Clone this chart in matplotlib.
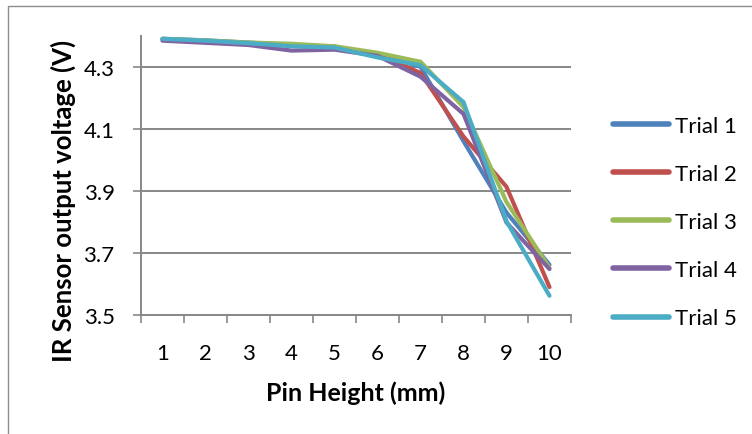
import matplotlib
matplotlib.use("Agg")
import matplotlib.pyplot as plt
from matplotlib.patches import Rectangle

plt.rcParams['font.family'] = ['Lato', 'DejaVu Sans']

pin_height = [1, 2, 3, 4, 5, 6, 7, 8, 9, 10]
trial_1 = [4.390, 4.385, 4.378, 4.370, 4.365, 4.340, 4.300, 4.060, 3.830, 3.662]
trial_2 = [4.388, 4.383, 4.376, 4.368, 4.364, 4.340, 4.280, 4.075, 3.913, 3.590]
trial_3 = [4.390, 4.385, 4.378, 4.374, 4.366, 4.345, 4.316, 4.170, 3.864, 3.652]
trial_4 = [4.384, 4.377, 4.370, 4.352, 4.355, 4.335, 4.268, 4.148, 3.798, 3.648]
trial_5 = [4.390, 4.384, 4.376, 4.366, 4.362, 4.330, 4.305, 4.186, 3.802, 3.562]
series_names = ["Trial 1", "Trial 2", "Trial 3", "Trial 4", "Trial 5"]
series_colors = ["#4F81BD", "#C0504D", "#9BBB59", "#8064A2", "#4BACC6"]
y_ticks = [3.5, 3.7, 3.9, 4.1, 4.3]

fig = plt.figure(figsize=(7.52, 4.35), dpi=100)
ax = fig.add_axes([141 / 752, 1 - 316 / 435, 430 / 752, (316 - 36.7) / 435])

# outer chart frame
fig.patches.append(Rectangle((8 / 752, -0.05), 1.0, 1 - 7 / 435 + 0.05,
                             transform=fig.transFigure, fill=False,
                             edgecolor="#8C8C8C", linewidth=1.0))

grey = "#878787"
positions = list(range(len(pin_height)))
for name, vals, col in zip(series_names, [trial_1, trial_2, trial_3, trial_4, trial_5], series_colors):
    ax.plot(positions, vals, color=col, linewidth=3.0, label=name,
            solid_capstyle="round", solid_joinstyle="miter")

ax.set_xlim(-0.5, len(pin_height) - 0.5)
ax.set_ylim(3.5, 4.4)
ax.set_yticks(y_ticks)
ax.set_yticklabels([f"{v:.1f}" for v in y_ticks])
ax.set_xticks(positions)
ax.set_xticklabels([str(p) for p in pin_height])
ax.set_xticks([p - 0.5 for p in range(len(pin_height) + 1)], minor=True)
ax.tick_params(axis="x", which="major", length=0, pad=20, labelsize=16)
ax.tick_params(axis="x", which="minor", length=6, width=1.2, color=grey, direction="out")
ax.tick_params(axis="y", length=6, width=1.2, color=grey, pad=13, labelsize=16)

ax.grid(axis="y", color=grey, linewidth=1.4)
ax.set_axisbelow(True)
for side in ["top", "right"]:
    ax.spines[side].set_visible(False)
for side in ["left", "bottom"]:
    ax.spines[side].set_color(grey)
    ax.spines[side].set_linewidth(1.4)

ax.set_xlabel("Pin Height (mm)", fontsize=18, fontweight="bold", labelpad=13)
ax.set_ylabel("IR Sensor output voltage (V)", fontsize=18.5, fontweight="bold")
ax.yaxis.set_label_coords((76 - 141) / 430, (316 - 201) / 279.3)

leg = ax.legend(loc="center left", bbox_to_anchor=(593 / 752, 1 - 223 / 435),
                bbox_transform=fig.transFigure, frameon=False,
                fontsize=16, handlelength=2.5, handletextpad=0.27, labelspacing=1.27)
for line in leg.get_lines():
    line.set_linewidth(4)

fig.savefig("out.png", dpi=100)
